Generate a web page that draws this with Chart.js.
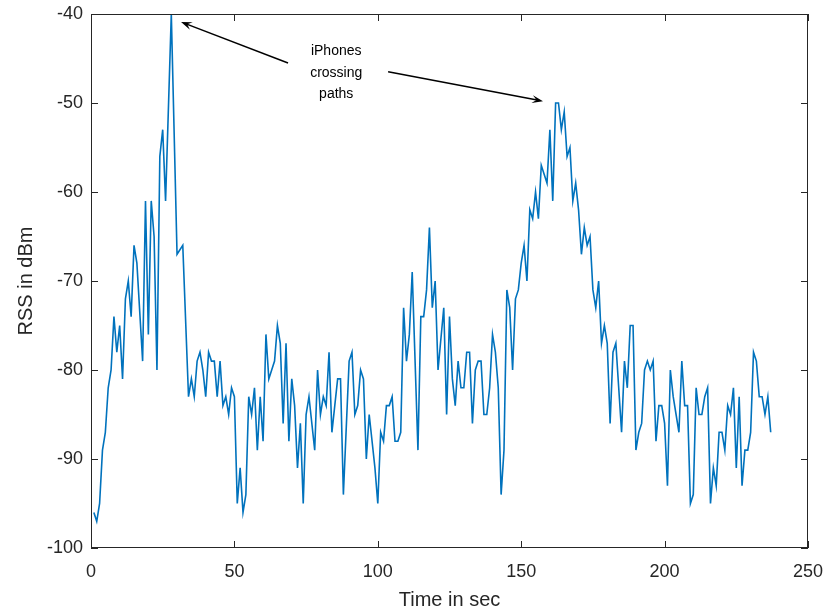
<!DOCTYPE html>
<html lang="en">
<head>
  <meta charset="UTF-8" />
  <title>RSS over time</title>
  <script src="https://cdn.jsdelivr.net/npm/chart.js"></script>
  <style>
    html, body { margin: 0; padding: 0; background: #fff; }
    #wrap { width: 827px; height: 612px; }
  </style>
</head>
<body>
  <div id="wrap"><canvas id="chart" width="827" height="612"></canvas></div>

  <script>
    // time stamps (sec) and received signal strength (dBm)
    const times = [
      1, 2, 3, 4, 5, 6, 7, 8, 9, 10, 11, 12, 13, 14, 15, 16, 18, 19, 20, 21, 22, 23, 24, 25, 26, 28, 30, 32,
      34, 35, 36, 37, 38, 39, 40, 41, 42, 43, 44, 45, 46, 47, 48, 49, 50, 51, 52, 53, 54, 55, 56, 57, 58, 59,
      60, 61, 62, 63, 64, 65, 66, 67, 68, 69, 70, 71, 72, 73, 74, 75, 76, 78, 79, 80, 81, 82, 83, 84, 85, 86,
      87, 88, 90, 91, 92, 93, 94, 95, 96, 97, 99, 100, 101, 102, 103, 104, 105, 106, 107, 108, 109, 110, 111,
      112, 114, 115, 116, 117, 118, 119, 120, 121, 123, 124, 125, 126, 127, 128, 129, 130, 131, 132, 133, 134,
      135, 136, 137, 138, 139, 140, 141, 142, 143, 144, 145, 146, 147, 148, 149, 150, 151, 152, 153, 154, 155,
      156, 157, 158, 159, 160, 161, 162, 163, 164, 165, 166, 167, 168, 169, 170, 171, 172, 173, 174, 175, 176,
      177, 178, 179, 180, 181, 182, 183, 184, 185, 186, 187, 188, 189, 190, 191, 192, 193, 194, 195, 196, 197,
      198, 199, 200, 201, 202, 203, 204, 205, 206, 207, 208, 209, 210, 211, 212, 213, 214, 215, 216, 217, 218,
      219, 220, 221, 222, 223, 224, 225, 226, 227, 228, 229, 230, 231, 232, 233, 234, 235, 236, 237
    ];
    const rss = [
      -96, -97, -95, -89, -87, -82, -80, -74, -78, -75, -81, -72, -70, -74, -66, -68, -79, -61, -76, -61, -65, -80, -56, -53, -61, -40, -67, -66,
      -83, -81, -83, -79, -78, -80, -83, -78, -79, -79, -83, -79, -84, -83, -85, -82, -83, -95, -91, -96, -94, -83, -85, -82, -89, -83,
      -88, -76, -81, -80, -79, -75, -77, -86, -77, -88, -81, -84, -91, -86, -95, -85, -83, -89, -80, -85, -83, -84, -78, -87, -84, -81,
      -81, -94, -79, -78, -85, -84, -80, -81, -90, -85, -91, -95, -87, -88, -84, -84, -83, -88, -88, -87, -73, -79, -76,
      -69, -89, -74, -74, -71, -64, -73, -70, -80, -73, -85, -74, -81, -84, -79, -82, -82, -78, -78, -86, -80,
      -79, -79, -85, -85, -82, -76, -78, -82, -94, -89, -71, -73, -80, -72, -71, -68, -66, -70, -62, -63, -60,
      -63, -57, -58, -59, -53, -61, -50, -50, -53, -51, -56, -55, -61, -59, -62, -67, -64, -66, -65, -71, -73,
      -70, -77, -75, -77, -86, -78, -77, -82, -87, -79, -82, -75, -75, -89, -87, -86, -80, -79, -80, -79, -88,
      -84, -84, -86, -93, -80, -83, -85, -87, -79, -84, -84, -95, -94, -82, -85, -85, -83, -82, -95, -91, -93,
      -87, -87, -89, -84, -85, -82, -91, -83, -93, -89, -89, -87, -78, -79, -83, -83, -85, -83, -87
    ];

    const xTicks = [0, 50, 100, 150, 200, 250];
    const yTicks = [-100, -90, -80, -70, -60, -50, -40];

    // text arrow annotation, in data units
    const noteLines = ["iPhones", "crossing", "paths"];
    const noteAnchor = { x: 85.5, y: [-44.2, -46.6, -49.0] };
    const arrows = [
      { from: [68.7, -45.5], to: [31.4, -40.9] },
      { from: [103.6, -46.5], to: [157.6, -49.8] }
    ];

    const axisColor = "#262626";
    const fontFamily = "'Liberation Sans', Arial, Helvetica, sans-serif";

    const frameAndNotes = {
      id: "frameAndNotes",
      afterDraw(chart) {
        const { ctx, chartArea: a, scales } = chart;
        const xs = scales.x, ys = scales.y;
        ctx.save();
        ctx.strokeStyle = axisColor;
        ctx.lineWidth = 1;
        ctx.strokeRect(a.left + 0.5, a.top + 0.5, a.right - a.left - 1, a.bottom - a.top - 1);

        // inward ticks on all four sides
        const len = 7;
        ctx.beginPath();
        xTicks.forEach(v => {
          const px = Math.round(xs.getPixelForValue(v)) + 0.5;
          ctx.moveTo(px, a.bottom); ctx.lineTo(px, a.bottom - len);
          ctx.moveTo(px, a.top); ctx.lineTo(px, a.top + len);
        });
        yTicks.forEach(v => {
          const py = Math.round(ys.getPixelForValue(v)) + 0.5;
          ctx.moveTo(a.left, py); ctx.lineTo(a.left + len, py);
          ctx.moveTo(a.right, py); ctx.lineTo(a.right - len, py);
        });
        ctx.stroke();

        // annotation text
        ctx.fillStyle = "#000";
        ctx.font = "14px " + fontFamily;
        ctx.textAlign = "center";
        ctx.textBaseline = "middle";
        noteLines.forEach((s, i) => {
          ctx.fillText(s, xs.getPixelForValue(noteAnchor.x), ys.getPixelForValue(noteAnchor.y[i]));
        });

        // arrows
        ctx.strokeStyle = "#000";
        ctx.lineWidth = 1.5;
        arrows.forEach(({ from, to }) => {
          const x0 = xs.getPixelForValue(from[0]), y0 = ys.getPixelForValue(from[1]);
          const x1 = xs.getPixelForValue(to[0]), y1 = ys.getPixelForValue(to[1]);
          const ang = Math.atan2(y1 - y0, x1 - x0);
          ctx.beginPath();
          ctx.moveTo(x0, y0);
          ctx.lineTo(x1 - 6 * Math.cos(ang), y1 - 6 * Math.sin(ang));
          ctx.stroke();
          const h = 11, w = 4;
          ctx.beginPath();
          ctx.moveTo(x1, y1);
          ctx.lineTo(x1 - h * Math.cos(ang) + w * Math.sin(ang), y1 - h * Math.sin(ang) - w * Math.cos(ang));
          ctx.lineTo(x1 - 0.6 * h * Math.cos(ang), y1 - 0.6 * h * Math.sin(ang));
          ctx.lineTo(x1 - h * Math.cos(ang) - w * Math.sin(ang), y1 - h * Math.sin(ang) + w * Math.cos(ang));
          ctx.closePath();
          ctx.fill();
        });
        ctx.restore();
      }
    };

    new Chart(document.getElementById("chart").getContext("2d"), {
      type: "line",
      data: {
        datasets: [{
          data: times.map((t, i) => ({ x: t, y: rss[i] })),
          borderColor: "#0072BD",
          borderWidth: 1.6,
          pointRadius: 0,
          tension: 0,
          fill: false
        }]
      },
      options: {
        responsive: false,
        animation: false,
        layout: { padding: { left: 0, top: 14, right: 19, bottom: 0 } },
        plugins: {
          legend: { display: false },
          tooltip: { enabled: false }
        },
        scales: {
          x: {
            type: "linear",
            min: 0,
            max: 250,
            afterFit: s => { s.height = 64; s.paddingLeft = 0; s.paddingRight = 0; },
            afterBuildTicks: s => { s.ticks = xTicks.map(v => ({ value: v })); },
            grid: { display: false, drawTicks: false },
            border: { display: false },
            ticks: { color: axisColor, padding: 13, maxRotation: 0, font: { family: fontFamily, size: 18 } },
            title: {
              display: true,
              text: "Time in sec",
              color: axisColor,
              padding: { top: 0, bottom: 0 },
              font: { family: fontFamily, size: 20 }
            }
          },
          y: {
            min: -100,
            max: -40,
            afterFit: s => { s.width = 91; s.paddingTop = 0; s.paddingBottom = 0; },
            afterBuildTicks: s => { s.ticks = yTicks.map(v => ({ value: v })); },
            grid: { display: false, drawTicks: false },
            border: { display: false },
            ticks: { color: axisColor, padding: 8, font: { family: fontFamily, size: 18 } },
            title: {
              display: true,
              text: "RSS in dBm",
              color: axisColor,
              padding: { top: 14, bottom: 0 },
              font: { family: fontFamily, size: 20 }
            }
          }
        }
      },
      plugins: [frameAndNotes]
    });
  </script>
</body>
</html>
